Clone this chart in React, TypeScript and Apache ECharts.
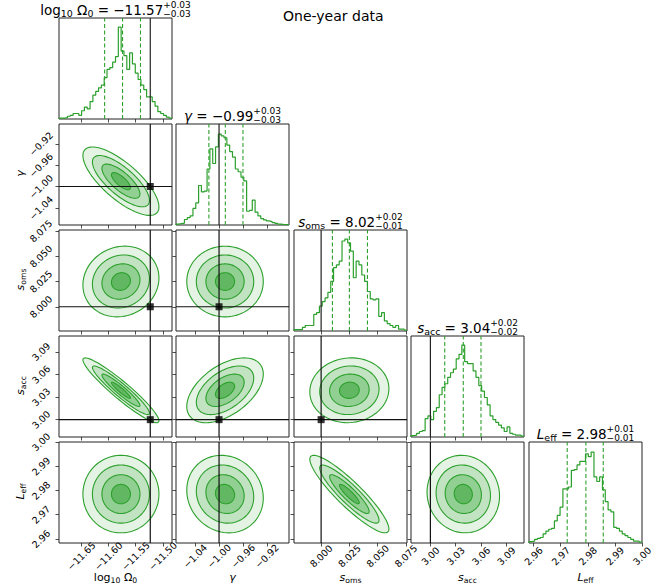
import React, { useEffect, useRef } from "react";
import * as echarts from "echarts";

// ---------- data ----------
const PARAM_NAMES = ["log10Omega0", "gamma", "s_oms", "s_acc", "L_eff"];
const AXIS_MIN = [-11.691, -1.072, 7.976, 2.977, 2.9583];
const AXIS_MAX = [-11.483, -0.883, 8.076, 3.111, 3.0];
const TICKS_OMEGA = [-11.65, -11.6, -11.55, -11.5];
const TICKS_GAMMA = [-1.04, -1.0, -0.96, -0.92];
const TICKS_SOMS = [8.0, 8.025, 8.05, 8.075];
const TICKS_SACC = [3.0, 3.03, 3.06, 3.09];
const TICKS_LEFF = [2.96, 2.97, 2.98, 2.99, 3.0];
const TICK_DECIMALS = [2, 2, 3, 2, 2];
const TRUTHS: (number | null)[] = [-11.523, -1.0, 8.0, 3.0, null];

const Q16 = [-11.607, -1.017, 8.01, 3.017, 2.9724];
const Q50 = [-11.574, -0.9895, 8.025, 3.039, 2.9793];
const Q84 = [-11.541, -0.96, 8.041, 3.06, 2.9857];
const MEDIANS = ["−11.57", "−0.99", "8.02", "3.04", "2.98"];
const ERR_PLUS = ["+0.03", "+0.03", "+0.02", "+0.02", "+0.01"];
const ERR_MINUS = ["−0.03", "−0.03", "−0.01", "−0.02", "−0.01"];

// histograms: 40 bins across each axis range (peak = 100)
const HIST_OMEGA = [1, 1, 1.5, 3, 4, 6, 6, 4, 9, 13, 11, 19, 26, 30, 34, 37, 45, 54, 56, 62, 68, 100, 74, 69, 54, 72, 60, 50, 43, 37, 32, 24, 24, 19, 14, 8, 6, 4, 2, 1];
const HIST_GAMMA = [1, 1.5, 2, 6, 8, 10, 18, 24, 43, 36, 37, 61, 83, 67, 85, 99, 97, 95, 87, 80, 74, 61, 58, 52, 48, 15, 16, 27, 14, 10, 7, 5.5, 4.4, 3.7, 2.6, 1.8, 1, 0.7, 0.5, 0.5];
const HIST_SOMS = [1.5, 1.5, 1.5, 4, 6, 6, 6, 18, 20, 27, 32, 36, 42, 54, 69, 72, 76, 98, 100, 96, 87, 58, 76, 72, 61, 54, 43, 35, 34, 35, 16, 20, 11, 8, 6, 4, 6, 2, 2, 1];
const HIST_SACC = [1.5, 2, 4, 6, 7, 20, 23, 19, 28, 32, 46, 54, 58, 65, 70, 74, 85, 90, 100, 82, 80, 80, 72, 65, 56, 50, 43, 35, 23, 19, 16, 13, 10, 6, 11, 4, 3, 2, 2, 1];
const HIST_LEFF = [1.5, 2, 4, 5, 6, 10, 13, 15, 16, 24, 30, 39, 59, 59, 61, 79, 80, 85, 89, 89, 97, 94, 99, 72, 67, 72, 58, 45, 36, 34, 17, 16, 13, 10, 8, 6, 4, 2, 2, 1];

// 2D posterior summaries (centre, contour spread, pairwise correlation)
const MEANS = [-11.577, -0.99, 8.025, 3.039, 2.9785];
const SIGMAS = [0.035, 0.032, 0.0175, 0.0215, 0.008];
const CORR_PAIRS: [number, number, number][] = [
  [1, 0, -0.75],
  [2, 0, 0.1],
  [2, 1, 0.0],
  [3, 0, -0.94],
  [3, 1, 0.5],
  [3, 2, 0.05],
  [4, 0, 0.0],
  [4, 1, -0.1],
  [4, 2, -0.9],
  [4, 3, -0.05],
];
const CONTOUR_LEVELS = [2, 1.5, 1, 0.5];

// ---------- style / layout ----------
const TICKS = [TICKS_OMEGA, TICKS_GAMMA, TICKS_SOMS, TICKS_SACC, TICKS_LEFF];
const HISTS = [HIST_OMEGA, HIST_GAMMA, HIST_SOMS, HIST_SACC, HIST_LEFF];
const COL_LEFT = [59, 176, 294, 411, 529];
const ROW_TOP = [18, 124, 230, 336, 442];
const PW = 113;
const PH = 101;
const GREEN = "#2ca02c";
const CONTOUR_FILLS = ["#e4f3e4", "#c2e3c2", "#92cf92", "#62b862"];
const FONT = "DejaVu Sans";

let measureCtx: CanvasRenderingContext2D | null = null;
function textWidth(t: string, fs: number, italic: boolean) {
  if (!measureCtx) measureCtx = document.createElement("canvas").getContext("2d");
  measureCtx!.font = `${italic ? "italic " : ""}${fs}px "${FONT}"`;
  return measureCtx!.measureText(t).width;
}

type Piece =
  | { t: string; fs: number; it?: boolean; dy?: number }
  | { sup: string; sub: string; fs: number; supDy: number; subDy: number };

function composite(pieces: Piece[], x: number, y: number, rotation = 0) {
  const widths = pieces.map((p: any) =>
    "sup" in p
      ? Math.max(textWidth(p.sup, p.fs, false), textWidth(p.sub, p.fs, false))
      : textWidth(p.t, p.fs, !!p.it)
  );
  const total = widths.reduce((a, b) => a + b, 0);
  let cx = -total / 2;
  const children: any[] = [];
  const mk = (t: string, fs: number, it: boolean, dy: number, x0: number) => ({
    type: "text",
    x: x0,
    y: dy - 0.3 * fs,
    silent: true,
    style: {
      text: t,
      fontSize: fs,
      fontFamily: FONT,
      fontStyle: it ? "italic" : "normal",
      fill: "#000",
      textAlign: "left",
      textVerticalAlign: "middle",
    },
  });
  pieces.forEach((p: any, k) => {
    if ("sup" in p) {
      children.push(mk(p.sup, p.fs, false, p.supDy, cx));
      children.push(mk(p.sub, p.fs, false, p.subDy, cx));
    } else {
      children.push(mk(p.t, p.fs, !!p.it, p.dy || 0, cx));
    }
    cx += widths[k];
  });
  return { type: "group", x, y, rotation, children };
}

function nameSymbol(j: number, fs: number, subDy: number): Piece[] {
  const s = fs * 0.7;
  switch (j) {
    case 0:
      return [
        { t: "log", fs },
        { t: "10", fs: s, dy: subDy },
        { t: " Ω", fs },
        { t: "0", fs: s, dy: subDy },
      ];
    case 1:
      return [{ t: "γ", fs, it: true }];
    case 2:
      return [{ t: "s", fs, it: true }, { t: "oms", fs: s, dy: subDy }];
    case 3:
      return [{ t: "s", fs, it: true }, { t: "acc", fs: s, dy: subDy }];
    default:
      return [{ t: "L", fs, it: true }, { t: "eff", fs: s, dy: subDy }];
  }
}

function corrOf(i: number, j: number) {
  const c = CORR_PAIRS.find((p) => p[0] === i && p[1] === j);
  return c ? c[2] : 0;
}

const fmt = (d: number) => (v: number) => Number(v).toFixed(d).replace("-", "\u2212");

function buildOption() {
  const grids: any[] = [];
  const xAxes: any[] = [];
  const yAxes: any[] = [];
  const series: any[] = [];
  let gi = 0;
  for (let i = 0; i < 5; i++) {
    for (let j = 0; j <= i; j++) {
      grids.push({
        left: COL_LEFT[j],
        top: ROW_TOP[i],
        width: PW,
        height: PH,
        show: true,
        borderColor: "#222",
        borderWidth: 1,
        backgroundColor: "transparent",
        containLabel: false,
      });
      xAxes.push({
        type: "value",
        gridIndex: gi,
        min: AXIS_MIN[j],
        max: AXIS_MAX[j],
        axisLine: { show: false },
        splitLine: { show: false },
        axisTick: { show: true, customValues: TICKS[j], length: 3.5, lineStyle: { color: "#222", width: 0.8 } },
        axisLabel: {
          show: i === 4,
          customValues: TICKS[j],
          rotate: 45,
          align: "center",
          verticalAlign: "middle",
          margin: 13,
          fontSize: 9.5,
          fontFamily: FONT,
          color: "#000",
          formatter: fmt(TICK_DECIMALS[j]),
        },
      });
      if (i === j) {
        yAxes.push({ type: "value", gridIndex: gi, min: 0, max: 110, show: false });
      } else {
        yAxes.push({
          type: "value",
          gridIndex: gi,
          min: AXIS_MIN[i],
          max: AXIS_MAX[i],
          axisLine: { show: false },
          splitLine: { show: false },
          axisTick: { show: true, customValues: TICKS[i], length: 3.5, lineStyle: { color: "#222", width: 0.8 } },
          axisLabel: {
            show: j === 0,
            customValues: TICKS[i],
            rotate: 45,
            align: "center",
            verticalAlign: "middle",
            margin: 18,
            fontSize: 9.5,
            fontFamily: FONT,
            color: "#000",
            formatter: fmt(TICK_DECIMALS[i]),
          },
        });
      }

      if (i === j) {
        // histogram as step line
        const h = HISTS[j];
        const n = h.length;
        const step = (AXIS_MAX[j] - AXIS_MIN[j]) / n;
        const pts: number[][] = [[AXIS_MIN[j], 0]];
        h.forEach((v, k) => {
          pts.push([AXIS_MIN[j] + k * step, v]);
          pts.push([AXIS_MIN[j] + (k + 1) * step, v]);
        });
        series.push({
          type: "line",
          xAxisIndex: gi,
          yAxisIndex: gi,
          data: pts,
          symbol: "none",
          silent: true,
          lineStyle: { color: GREEN, width: 1.2 },
          z: 3,
        });
        [Q16[j], Q50[j], Q84[j]].forEach((q) => {
          series.push({
            type: "line",
            xAxisIndex: gi,
            yAxisIndex: gi,
            data: [
              [q, 0],
              [q, 110],
            ],
            symbol: "none",
            silent: true,
            lineStyle: { color: GREEN, width: 1.1, type: [4, 2.5] },
            z: 2,
          });
        });
        const t = TRUTHS[j];
        if (t !== null) {
          series.push({
            type: "line",
            xAxisIndex: gi,
            yAxisIndex: gi,
            data: [
              [t, 0],
              [t, 110],
            ],
            symbol: "none",
            silent: true,
            lineStyle: { color: "#222", width: 1.2 },
            z: 4,
          });
        }
      } else {
        const rho = corrOf(i, j);
        const sx = SIGMAS[j];
        const sy = SIGMAS[i];
        series.push({
          type: "custom",
          xAxisIndex: gi,
          yAxisIndex: gi,
          clip: true,
          silent: true,
          data: CONTOUR_LEVELS.map((r, k) => [MEANS[j], MEANS[i], r, k]),
          renderItem: (params: any, api: any) => {
            const mx = api.value(0);
            const my = api.value(1);
            const r = api.value(2);
            const k = api.value(3);
            const points: number[][] = [];
            const N = 90;
            for (let s = 0; s < N; s++) {
              const a = (s / N) * Math.PI * 2;
              const u = Math.cos(a);
              const w = Math.sin(a);
              const x = mx + r * sx * u;
              const y = my + r * sy * (rho * u + Math.sqrt(1 - rho * rho) * w);
              points.push(api.coord([x, y]));
            }
            return {
              type: "polygon",
              shape: { points },
              style: { fill: CONTOUR_FILLS[k], stroke: GREEN, lineWidth: 1.1 },
            };
          },
          z: 2,
        });
        const tx = TRUTHS[j];
        const ty = TRUTHS[i];
        if (tx !== null) {
          series.push({
            type: "line",
            xAxisIndex: gi,
            yAxisIndex: gi,
            data: [
              [tx, AXIS_MIN[i]],
              [tx, AXIS_MAX[i]],
            ],
            symbol: "none",
            silent: true,
            lineStyle: { color: "#111", width: 1.2 },
            z: 4,
          });
        }
        if (ty !== null) {
          series.push({
            type: "line",
            xAxisIndex: gi,
            yAxisIndex: gi,
            data: [
              [AXIS_MIN[j], ty],
              [AXIS_MAX[j], ty],
            ],
            symbol: "none",
            silent: true,
            lineStyle: { color: "#111", width: 1.2 },
            z: 4,
          });
        }
        if (tx !== null && ty !== null) {
          series.push({
            type: "scatter",
            xAxisIndex: gi,
            yAxisIndex: gi,
            data: [[tx, ty]],
            symbol: "rect",
            symbolSize: 7,
            silent: true,
            itemStyle: { color: "#000" },
            z: 5,
          });
        }
      }
      gi++;
    }
  }

  // texts
  const graphic: any[] = [];
  const TF = 13.5;
  const SF = 9;
  for (let j = 0; j < 5; j++) {
    const pieces: Piece[] = [
      ...nameSymbol(j, TF, 2.3),
      { t: " = " + MEDIANS[j], fs: TF },
      { sup: ERR_PLUS[j], sub: ERR_MINUS[j], fs: SF, supDy: -5.9, subDy: 2.4 },
    ];
    graphic.push(composite(pieces, COL_LEFT[j] + PW / 2, ROW_TOP[j] - 4));
    // x axis names
    graphic.push(composite(nameSymbol(j, 11, 2.2), COL_LEFT[j] + PW / 2, 581));
  }
  for (let i = 1; i < 5; i++) {
    graphic.push(composite(nameSymbol(i, 11, 2.2), 24, ROW_TOP[i] + PH / 2 - 1, Math.PI / 2));
  }
  graphic.push({
    type: "text",
    x: 283,
    y: 20 - 0.3 * 14,
    silent: true,
    style: {
      text: "One-year data",
      fontSize: 14,
      fontFamily: FONT,
      fill: "#000",
      textAlign: "left",
      textVerticalAlign: "middle",
    },
  });

  return {
    animation: false,
    backgroundColor: "#fff",
    grid: grids,
    xAxis: xAxes,
    yAxis: yAxes,
    series,
    graphic,
  };
}

export default function App() {
  const ref = useRef<HTMLDivElement>(null);
  useEffect(() => {
    if (!ref.current) return;
    const chart = echarts.init(ref.current, undefined, { renderer: "svg" });
    chart.setOption(buildOption() as any);
    return () => chart.dispose();
  }, []);
  return (
    <div
      ref={ref}
      style={{ position: "fixed", left: 0, top: 0, width: 671, height: 588, background: "#fff" }}
    />
  );
}
